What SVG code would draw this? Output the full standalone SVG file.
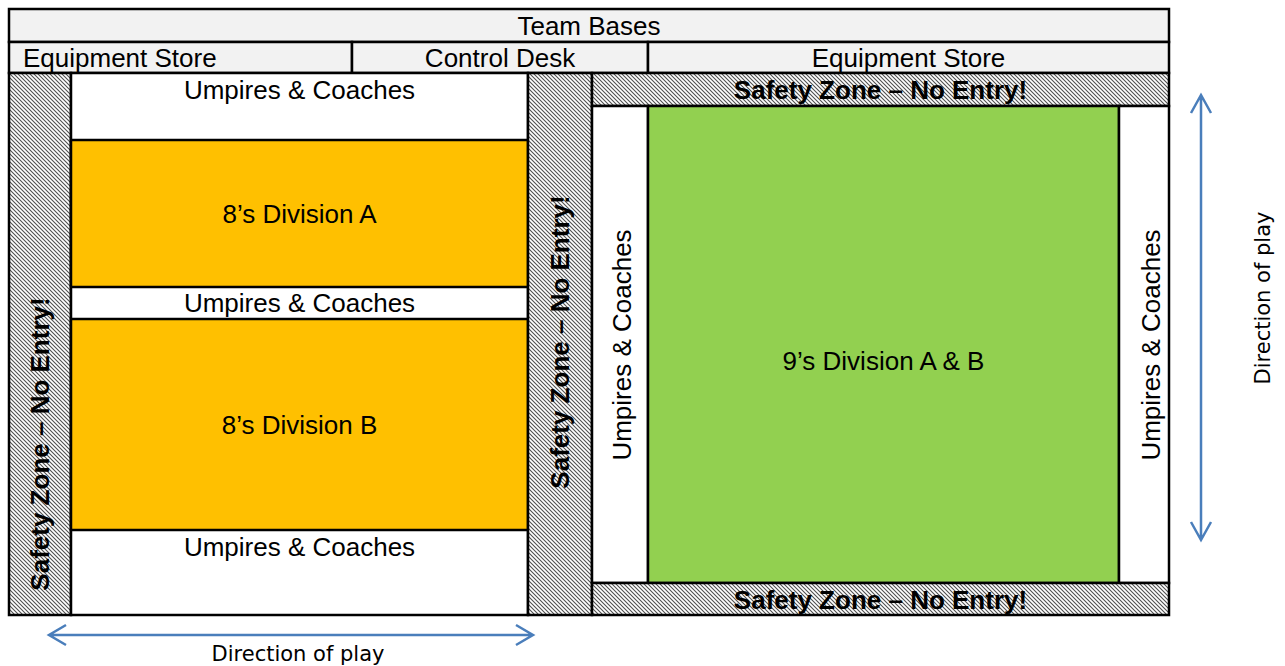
<svg xmlns="http://www.w3.org/2000/svg" width="1285" height="666" viewBox="0 0 1285 666">
<style>
.b{stroke:#000;stroke-width:2.5}
.t{font-family:"Liberation Sans",Arial,sans-serif;font-size:26px;fill:#000;text-anchor:middle}
.s{font-weight:bold}
.d{font-family:"DejaVu Sans",Verdana,sans-serif;font-size:21px;fill:#000;text-anchor:middle}
.arr{fill:none;stroke:#4a7ebb;stroke-width:2.5}
</style>
<defs>
<pattern id="hatch" patternUnits="userSpaceOnUse" width="4" height="4">
<rect width="4" height="4" fill="#fff"/>
<path d="M-1,3 l2,2 M0,0 l4,4 M3,-1 l2,2" stroke="#505050" stroke-width="1.1"/>
</pattern>
</defs>
<rect width="1285" height="666" fill="#fff"/>
<g id="team-bases"><rect class="b" x="9" y="9" width="1160" height="33" fill="#f2f2f2"/><text class="t" x="589" y="35">Team Bases</text></g>
<g id="equip-left"><rect class="b" x="9" y="42" width="343" height="31" fill="#f2f2f2"/><text class="t" x="23" y="67" style="text-anchor:start">Equipment Store</text></g>
<g id="control-desk"><rect class="b" x="352" y="42" width="296" height="31" fill="#f2f2f2"/><text class="t" x="500" y="67">Control Desk</text></g>
<g id="equip-right"><rect class="b" x="648" y="42" width="521" height="31" fill="#f2f2f2"/><text class="t" x="908.5" y="67">Equipment Store</text></g>
<g id="safety-left"><rect class="b" x="9" y="73" width="62" height="542" fill="url(#hatch)"/><text class="t s" transform="translate(40,444) rotate(-90)" x="0" y="9">Safety Zone – No Entry!</text></g>
<g id="left-area"><rect class="b" x="71" y="73" width="457" height="542" fill="#fff"/></g>
<g id="uc-top"><text class="t" x="299.5" y="99">Umpires &amp; Coaches</text></g>
<g id="div8a"><rect class="b" x="71" y="140" width="457" height="147" fill="#ffc000"/><text class="t" x="299.5" y="223">8’s Division A</text></g>
<g id="uc-mid"><text class="t" x="299.5" y="312">Umpires &amp; Coaches</text></g>
<g id="div8b"><rect class="b" x="71" y="319" width="457" height="211" fill="#ffc000"/><text class="t" x="299.5" y="434">8’s Division B</text></g>
<g id="uc-bot"><text class="t" x="299.5" y="556">Umpires &amp; Coaches</text></g>
<g id="safety-mid"><rect class="b" x="528" y="73" width="64" height="542" fill="url(#hatch)"/><text class="t s" transform="translate(560,342) rotate(-90)" x="0" y="9">Safety Zone – No Entry!</text></g>
<g id="safety-top"><rect class="b" x="592" y="73" width="577" height="33" fill="url(#hatch)"/><text class="t s" x="880.5" y="99">Safety Zone – No Entry!</text></g>
<g id="uc-left"><rect class="b" x="592" y="106" width="56" height="477" fill="#fff"/><text class="t" transform="translate(622,345) rotate(-90)" x="0" y="9">Umpires &amp; Coaches</text></g>
<g id="div9"><rect class="b" x="648" y="106" width="471" height="477" fill="#92d050"/><text class="t" x="883.5" y="370">9’s Division A &amp; B</text></g>
<g id="uc-right"><rect class="b" x="1119" y="106" width="50" height="477" fill="#fff"/><text class="t" transform="translate(1151,345) rotate(-90)" x="0" y="9">Umpires &amp; Coaches</text></g>
<g id="safety-bot"><rect class="b" x="592" y="583" width="577" height="32" fill="url(#hatch)"/><text class="t s" x="880.5" y="609">Safety Zone – No Entry!</text></g>
<g id="connectors">
<path class="arr" d="M49,635 H533 M66,625 L49,635 L66,645 M516,625 L533,635 L516,645"/>
<path class="arr" d="M1201,95 V540 M1191,113 L1201,95 L1211,113 M1191,522 L1201,540 L1211,522"/>
</g>
<g id="label-bottom"><text class="d" x="298" y="661">Direction of play</text></g>
<g id="label-right"><text class="d" transform="translate(1263,298) rotate(-90)" x="0" y="7">Direction of play</text></g>
</svg>
